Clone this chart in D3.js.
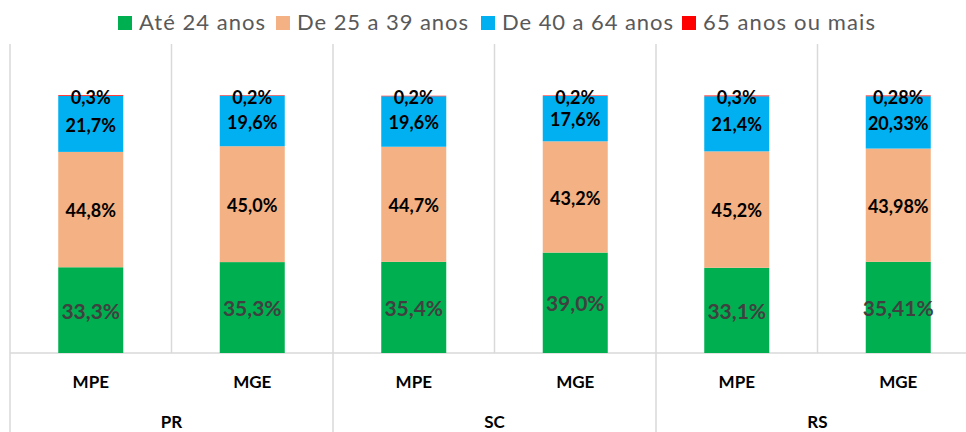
<!DOCTYPE html>
<html>
<head>
<meta charset="utf-8">
<script src="https://cdn.jsdelivr.net/npm/d3@7"></script>
<style>
  body { margin: 0; background: #fff; }
  svg { display: block; font-family: Lato, "Open Sans", sans-serif; }
</style>
</head>
<body>
<svg id="chart" width="966" height="432"></svg>
<script>
// categories
const states = ["PR", "SC", "RS"];
const sizes = ["MPE", "MGE"];
const seriesNames = ["Até 24 anos", "De 25 a 39 anos", "De 40 a 64 anos", "65 anos ou mais"];
const seriesColors = ["#00b050", "#f4b183", "#00b0f0", "#ff0000"];

// values (%) per bar: PR-MPE, PR-MGE, SC-MPE, SC-MGE, RS-MPE, RS-MGE
const ate24 = [33.3, 35.3, 35.4, 39.0, 33.1, 35.41];
const de25a39 = [44.8, 45.0, 44.7, 43.2, 45.2, 43.98];
const de40a64 = [21.7, 19.6, 19.6, 17.6, 21.4, 20.33];
const mais65 = [0.3, 0.2, 0.2, 0.2, 0.3, 0.28];
const decimals = [1, 1, 1, 1, 1, 2];

const svg = d3.select("#chart");

const left = 10, bandW = 161.5;
const cats = [];
states.forEach(s => sizes.forEach(z => cats.push(s + "|" + z)));

const x = d3.scaleBand()
  .domain(cats)
  .range([left, left + bandW * cats.length])
  .paddingInner(0)
  .paddingOuter(0);

const y = d3.scaleLinear().domain([0, 120]).range([353, 44]);

const rows = cats.map((c, i) => ({
  key: c,
  ate24: ate24[i], de25a39: de25a39[i], de40a64: de40a64[i], mais65: mais65[i],
  dec: decimals[i]
}));
const keys = ["ate24", "de25a39", "de40a64", "mais65"];
const stacked = d3.stack().keys(keys)(rows);

const grid = "#d9d9d9";

// vertical gridlines between categories (group borders run down through the labels)
svg.append("g").selectAll("line")
  .data(d3.range(cats.length + 1))
  .enter().append("line")
  .attr("x1", i => left + i * bandW).attr("x2", i => left + i * bandW)
  .attr("y1", y(120)).attr("y2", i => (i % 2 === 0) ? 432 : y(0))
  .attr("stroke", grid).attr("stroke-width", 1.5);

// axis line
svg.append("line")
  .attr("x1", left).attr("x2", 966)
  .attr("y1", y(0)).attr("y2", y(0))
  .attr("stroke", grid).attr("stroke-width", 1.5);

// bars
const barW = 65;
const layers = svg.append("g").selectAll("g")
  .data(stacked)
  .enter().append("g")
  .attr("fill", (d, i) => seriesColors[i]);

layers.selectAll("rect")
  .data(d => d)
  .enter().append("rect")
  .attr("x", d => x(d.data.key) + x.bandwidth() / 2 - barW / 2)
  .attr("width", barW)
  .attr("y", d => y(d[1]))
  .attr("height", d => y(d[0]) - y(d[1]));

// data labels
const fmt = (v, dec) => v.toFixed(dec).replace(".", ",") + "%";
stacked.forEach((layer, li) => {
  svg.append("g").selectAll("text")
    .data(layer)
    .enter().append("text")
    .attr("x", d => x(d.data.key) + x.bandwidth() / 2)
    .attr("y", d => li === 3 ? y(d[1]) + 4 : (y(d[0]) + y(d[1])) / 2 + 3)
    .attr("text-anchor", "middle")
    .attr("dominant-baseline", "middle")
    .attr("font-weight", "bold")
    .attr("font-size", li === 0 ? 21 : 18)
    .attr("fill", li === 0 ? "#404040" : "#000")
    .text(d => fmt(d.data[keys[li]], d.data.dec));
});

// category labels
svg.append("g").selectAll("text")
  .data(cats)
  .enter().append("text")
  .attr("x", c => x(c) + x.bandwidth() / 2)
  .attr("y", 388)
  .attr("text-anchor", "middle")
  .attr("font-weight", "bold")
  .attr("font-size", 17)
  .attr("fill", "#000")
  .text(c => c.split("|")[1]);

svg.append("g").selectAll("text")
  .data(states)
  .enter().append("text")
  .attr("x", (s, i) => left + (i * 2 + 1) * bandW)
  .attr("y", 428)
  .attr("text-anchor", "middle")
  .attr("font-weight", "bold")
  .attr("font-size", 17)
  .attr("fill", "#000")
  .text(s => s);

// legend
const legendX = [118, 276, 481, 682];
const legendW = [126, 171, 171, 172];
const legend = svg.append("g").selectAll("g")
  .data(seriesNames)
  .enter().append("g")
  .attr("transform", (d, i) => `translate(${legendX[i]},0)`);
legend.append("rect")
  .attr("x", 0).attr("y", 16).attr("width", 14).attr("height", 14)
  .attr("fill", (d, i) => seriesColors[i]);
legend.append("text")
  .attr("x", 21).attr("y", 30)
  .attr("font-size", 22)
  .attr("fill", "#595959")
  .attr("textLength", (d, i) => legendW[i])
  .attr("lengthAdjust", "spacing")
  .text(d => d);
</script>
</body>
</html>
